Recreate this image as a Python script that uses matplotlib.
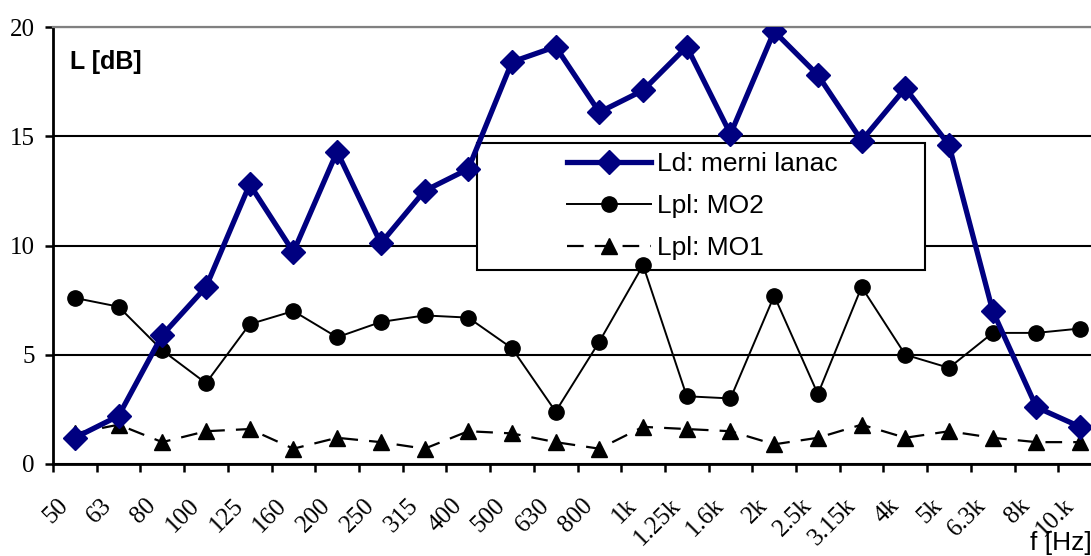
import matplotlib
matplotlib.use("Agg")
import matplotlib.pyplot as plt
import matplotlib.transforms as mtransforms
from matplotlib.patches import Rectangle
import numpy as np

categories = ["50", "63", "80", "100", "125", "160", "200", "250", "315", "400",
              "500", "630", "800", "1k", "1.25k", "1.6k", "2k", "2.5k", "3.15k",
              "4k", "5k", "6.3k", "8k", "10.k"]
ld_merni_lanac = [1.2, 2.2, 5.9, 8.1, 12.8, 9.7, 14.3, 10.1, 12.5, 13.5, 18.4, 19.1,
                  16.1, 17.1, 19.1, 15.1, 19.8, 17.8, 14.8, 17.2, 14.6, 7.0, 2.6, 1.7]
lpl_mo2 = [7.6, 7.2, 5.2, 3.7, 6.4, 7.0, 5.8, 6.5, 6.8, 6.7, 5.3, 2.4,
           5.6, 9.1, 3.1, 3.0, 7.7, 3.2, 8.1, 5.0, 4.4, 6.0, 6.0, 6.2]
lpl_mo1 = [1.4, 1.8, 1.0, 1.5, 1.6, 0.7, 1.2, 1.0, 0.7, 1.5, 1.4, 1.0,
           0.7, 1.7, 1.6, 1.5, 0.9, 1.2, 1.8, 1.2, 1.5, 1.2, 1.0, 1.0]
series_labels = ["Ld: merni lanac", "Lpl: MO2", "Lpl: MO1"]
y_ticks = [0, 5, 10, 15, 20]

W, H = 1091, 556
fig = plt.figure(figsize=(W / 100, H / 100), dpi=100)
ax = fig.add_axes([53 / W, 92 / H, 1049 / W, 437 / H])

n = len(categories)
x = np.arange(n) + 0.5

l1, = ax.plot(x, ld_merni_lanac, color="#000080", lw=3.8, marker="D", ms=12.5,
              zorder=4, solid_joinstyle="miter")
l2, = ax.plot(x, lpl_mo2, color="black", lw=1.4, marker="o", ms=11, zorder=3.5)
l3, = ax.plot(x, lpl_mo1, color="black", lw=1.6, marker="^", ms=12, zorder=3)
l3.set_dashes([7.5, 5])

ax.set_xlim(0, n)
ax.set_ylim(0, 20)

# Axes styling
ax.spines["right"].set_visible(False)
ax.spines["top"].set_color("#808080")
ax.spines["top"].set_linewidth(1.6)
ax.spines["left"].set_linewidth(2.0)
ax.spines["bottom"].set_linewidth(2.0)

ax.set_yticks(y_ticks)
ax.set_yticklabels([str(v) for v in y_ticks], fontfamily="Liberation Serif", fontsize=18)
ax.tick_params(axis="y", direction="out", length=6, width=1.8, pad=7)
ax.yaxis.grid(True, color="black", lw=1.5)
ax.set_axisbelow(True)

ax.set_xticks(np.arange(n + 1), minor=True)
ax.tick_params(axis="x", which="minor", direction="out", length=6, width=1.8)
ax.set_xticks(x)
ax.set_xticklabels(categories, fontfamily="Liberation Serif", fontsize=18,
                   rotation=45, ha="right", va="top")
ax.tick_params(axis="x", which="major", length=0, pad=22)
offset = mtransforms.ScaledTranslation(-2 / 100, 0, fig.dpi_scale_trans)
for lab in ax.get_xticklabels():
    lab.set_transform(lab.get_transform() + offset)

# Legend box (white, black frame) beneath the data lines
rect = Rectangle((0.404, 0.444), 0.427, 0.291, transform=ax.transAxes,
                 facecolor="white", edgecolor="black", lw=1.5, zorder=2.6,
                 clip_on=False)
ax.add_patch(rect)
leg = ax.legend([l1, l2, l3], series_labels, loc="upper left",
                bbox_to_anchor=(0.49, 0.713), frameon=False, borderpad=0,
                borderaxespad=0, handlelength=3.2, handletextpad=0.2,
                labelspacing=0.68, prop={"family": "Liberation Sans", "size": 19})
leg.set_zorder(2.7)

fig.text(70 / W, 1 - 62 / H, "L [dB]", fontfamily="Liberation Sans",
         fontweight="bold", fontsize=18, ha="left", va="center")
fig.text(1030 / W, 6 / H, "f [Hz]", fontfamily="Liberation Sans",
         fontsize=19, ha="left", va="baseline")

fig.savefig("out.png", dpi=100)
